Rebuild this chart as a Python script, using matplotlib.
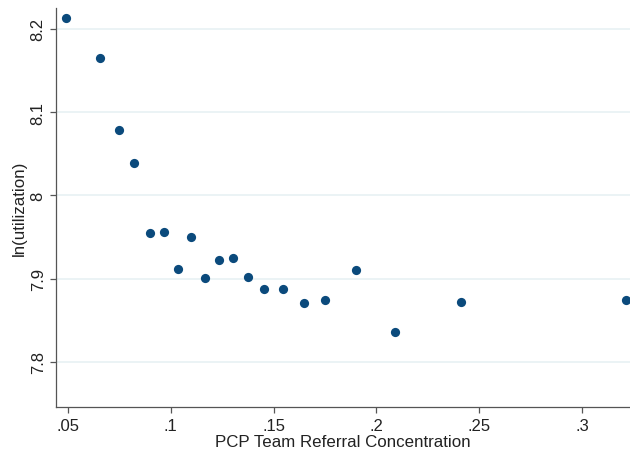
import matplotlib
matplotlib.use("Agg")
import matplotlib.pyplot as plt

# binned scatter points
conc = [0.049, 0.0656, 0.0748, 0.0821, 0.0899, 0.0969, 0.1037, 0.1099, 0.1168, 0.1236,
        0.1303, 0.1377, 0.1453, 0.1547, 0.1649, 0.1748, 0.190, 0.209, 0.241, 0.3213]
lnutil = [8.213, 8.165, 8.079, 8.039, 7.955, 7.956, 7.912, 7.950, 7.901, 7.922,
          7.925, 7.902, 7.887, 7.887, 7.871, 7.874, 7.910, 7.836, 7.872, 7.874]

xticks = [0.05, 0.1, 0.15, 0.2, 0.25, 0.3]
xlabels = [".05", ".1", ".15", ".2", ".25", ".3"]
yticks = [7.8, 7.9, 8.0, 8.1, 8.2]
ylabels = ["7.8", "7.9", "8", "8.1", "8.2"]

plt.rcParams['font.family'] = ['Liberation Sans', 'DejaVu Sans']

fig = plt.figure(figsize=(6.3, 4.52), dpi=100)
ax = fig.add_axes([0.089, 0.097, 0.911, 0.883])

ax.scatter(conc, lnutil, s=44, color="#0b4a7c", zorder=3, linewidths=0)

ax.set_xlim(0.0442, 0.3233)
ax.set_ylim(7.7455, 8.225)
ax.set_xticks(xticks)
ax.set_xticklabels(xlabels)
ax.set_yticks(yticks)
ax.set_yticklabels(ylabels, rotation=90, va="center")

ax.grid(axis="y", color="#e8f1f3", linewidth=1.2)
ax.set_axisbelow(True)
for side in ["top", "right"]:
    ax.spines[side].set_visible(False)
for side in ["left", "bottom"]:
    ax.spines[side].set_color("#555555")
    ax.spines[side].set_linewidth(0.9)
ax.tick_params(colors="#555555", labelcolor="#222222", labelsize=12, length=4, width=0.9)

ax.set_xlabel("PCP Team Referral Concentration", fontsize=12.2, color="#222222", labelpad=1)
ax.set_ylabel("ln(utilization)", fontsize=12.2, color="#222222", labelpad=3)

fig.savefig("out.png", dpi=100)
